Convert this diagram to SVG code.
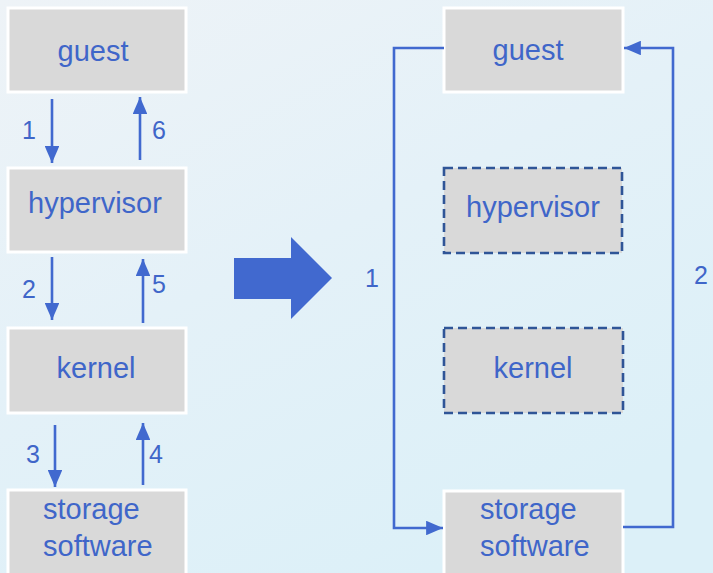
<svg xmlns="http://www.w3.org/2000/svg" width="713" height="573" viewBox="0 0 713 573">
<defs>
<linearGradient id="bg" x1="0" y1="0" x2="0.6" y2="1">
<stop offset="0" stop-color="#eef3f7"/>
<stop offset="0.5" stop-color="#e4f1f8"/>
<stop offset="1" stop-color="#dcf0f8"/>
</linearGradient>
<marker id="ah" viewBox="0 0 10 10" refX="10" refY="5" markerWidth="6.5" markerHeight="5.6" orient="auto" markerUnits="strokeWidth" preserveAspectRatio="none">
<path d="M0,0 L10,5 L0,10 z" fill="#4169cf"/>
</marker>
<style>
.box{fill:#d9d9d9;stroke:#ffffff;stroke-width:3}
.dbox{fill:#d9d9d9;stroke:#2f5597;stroke-width:2.6;stroke-dasharray:9,5}
.t{font-family:"Liberation Sans",Arial,sans-serif;font-size:29px;fill:#3f66c9}
.n{font-family:"Liberation Sans",Arial,sans-serif;font-size:25px;fill:#3f66c9}
.c{text-anchor:middle}
.ln{stroke:#4169cf;stroke-width:2.6;fill:none;marker-end:url(#ah)}
</style>
</defs>
<rect width="713" height="573" fill="url(#bg)"/>

<g id="left-guest"><rect class="box" x="8" y="8" width="178" height="84"/><text class="t c" x="93" y="61">guest</text></g>
<g id="left-hypervisor"><rect class="box" x="8" y="168" width="178" height="84"/><text class="t c" x="95" y="213">hypervisor</text></g>
<g id="left-kernel"><rect class="box" x="8" y="328" width="178" height="85"/><text class="t c" x="96" y="378">kernel</text></g>
<g id="left-storage"><rect class="box" x="8" y="490" width="178" height="90"/><text class="t" x="43" y="519">storage</text><text class="t" x="43" y="556">software</text></g>

<g id="right-guest"><rect class="box" x="444" y="8" width="179" height="84"/><text class="t c" x="528" y="60">guest</text></g>
<g id="right-hypervisor"><rect class="dbox" x="444" y="168" width="178" height="85"/><text class="t c" x="533" y="217">hypervisor</text></g>
<g id="right-kernel"><rect class="dbox" x="444" y="328" width="179" height="85"/><text class="t c" x="533" y="378">kernel</text></g>
<g id="right-storage"><rect class="box" x="444" y="491" width="179" height="90"/><text class="t" x="480" y="519">storage</text><text class="t" x="480" y="556">software</text></g>

<g id="big-arrow"><polygon points="234,258 291,258 291,237 332,278 291,319 291,299 234,299" fill="#4169cf"/></g>

<g id="connectors">
<line class="ln" x1="52" y1="99" x2="52" y2="163"/>
<line class="ln" x1="140" y1="160" x2="140" y2="97"/>
<line class="ln" x1="52" y1="257" x2="52" y2="320"/>
<line class="ln" x1="143" y1="323" x2="143" y2="259"/>
<line class="ln" x1="55" y1="425" x2="55" y2="487"/>
<line class="ln" x1="143" y1="485" x2="143" y2="423"/>
<polyline class="ln" points="444,48 394,48 394,528 443,528"/>
<polyline class="ln" points="623,527 673,527 673,48 624,48"/>
</g>

<g id="labels">
<text class="n" x="22" y="139">1</text>
<text class="n" x="152" y="139">6</text>
<text class="n" x="22" y="298">2</text>
<text class="n" x="152" y="293">5</text>
<text class="n" x="26" y="463">3</text>
<text class="n" x="149" y="463">4</text>
<text class="n" x="365" y="287">1</text>
<text class="n" x="694" y="284">2</text>
</g>
</svg>
